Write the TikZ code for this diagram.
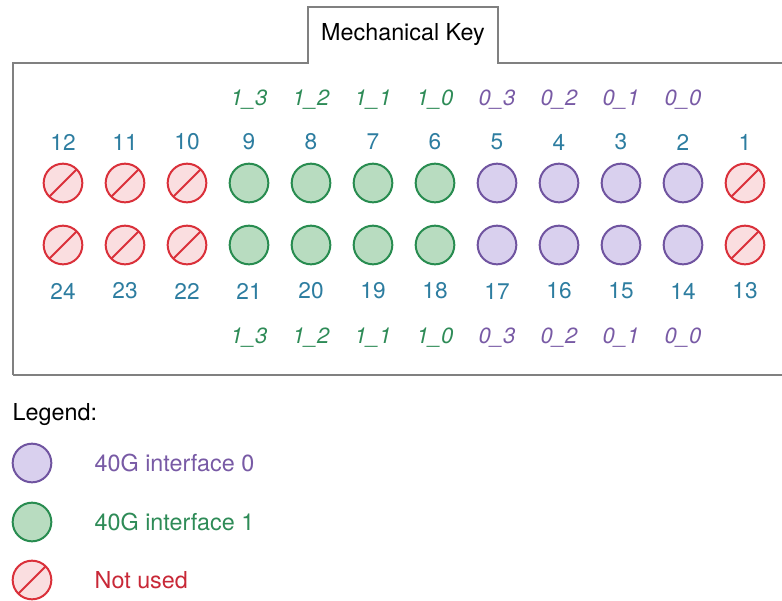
\documentclass[tikz,border=0pt]{standalone}
\usepackage{fontspec}
\setmainfont{TeX Gyre Heros}
\definecolor{numblue}{RGB}{45,125,160}
\definecolor{pdraw}{RGB}{112,84,160}
\definecolor{pfill}{RGB}{217,208,238}
\definecolor{gdraw}{RGB}{40,140,80}
\definecolor{gfill}{RGB}{184,220,192}
\definecolor{rdraw}{RGB}{218,48,58}
\definecolor{rfill}{RGB}{250,222,224}
\definecolor{ptext}{RGB}{120,90,165}
\definecolor{gtext}{RGB}{46,139,87}
\definecolor{rtext}{RGB}{200,40,55}
\begin{document}
\begin{tikzpicture}[
  x=0.75pt, y=-0.75pt,
  port/.style={circle, inner sep=0pt, minimum size=29pt, line width=1.5pt},
  pzero/.style={port, draw=pdraw, fill=pfill},
  pone/.style={port, draw=gdraw, fill=gfill},
  pnone/.style={port, draw=rdraw, fill=rfill,
    path picture={\draw[rdraw, line width=1.5pt] (path picture bounding box.south west) -- (path picture bounding box.north east);}},
  num/.style={font=\fontsize{17}{20}\selectfont, text=numblue},
  lane/.style={font=\fontsize{16.5}{20}\selectfont\itshape},
  txt/.style={font=\fontsize{17.5}{21}\selectfont, anchor=west}
]
  \useasboundingbox (0,0) rectangle (782,600);

  % Caja
  \draw[line width=1.2pt, black!50] (13,375) -- (13,63) -- (308,63) -- (308,7)
    -- (498,7) -- (498,63) -- (800,63);
  \draw[line width=1.2pt, black!50] (13,375) -- (800,375);
  \node[font=\fontsize{17.5}{21}\selectfont] (tab) at (403,35) {Mechanical Key};

  % Puertos
  \foreach \n/\s in {1/pnone,2/pzero,3/pzero,4/pzero,5/pzero,6/pone,
                     7/pone,8/pone,9/pone,10/pnone,11/pnone,12/pnone} {
    \pgfmathtruncatemacro{\m}{\n+12}
    \pgfmathsetmacro{\px}{63+62*(12-\n)}
    \node[\s] (p\n) at (\px,183) {};
    \node[\s] (p\m) at (\px,245) {};
    \node[num] (n\n) at (\px,142) {\n};
    \node[num] (n\m) at (\px,291) {\m};
  }

  % Etiquetas de interfaz
  \foreach \n/\l/\c in {2/0\_0/ptext,3/0\_1/ptext,4/0\_2/ptext,5/0\_3/ptext,
                        6/1\_0/gtext,7/1\_1/gtext,8/1\_2/gtext,9/1\_3/gtext} {
    \pgfmathsetmacro{\px}{63+62*(12-\n)}
    \node[lane, text=\c] (t\n) at (\px,100) {\l};
    \node[lane, text=\c] (b\n) at (\px,338) {\l};
  }

  % Leyenda
  \node[txt] (leg) at (8,415) {Legend:};
  \node[pzero] (k0) at (32,463) {};
  \node[pone] (k1) at (32,522) {};
  \node[pnone] (k2) at (32,580) {};
  \node[txt, text=ptext] (l0) at (90,463) {40G interface 0};
  \node[txt, text=gtext] (l1) at (90,522) {40G interface 1};
  \node[txt, text=rtext] (l2) at (90,580) {Not used};
\end{tikzpicture}
\end{document}
